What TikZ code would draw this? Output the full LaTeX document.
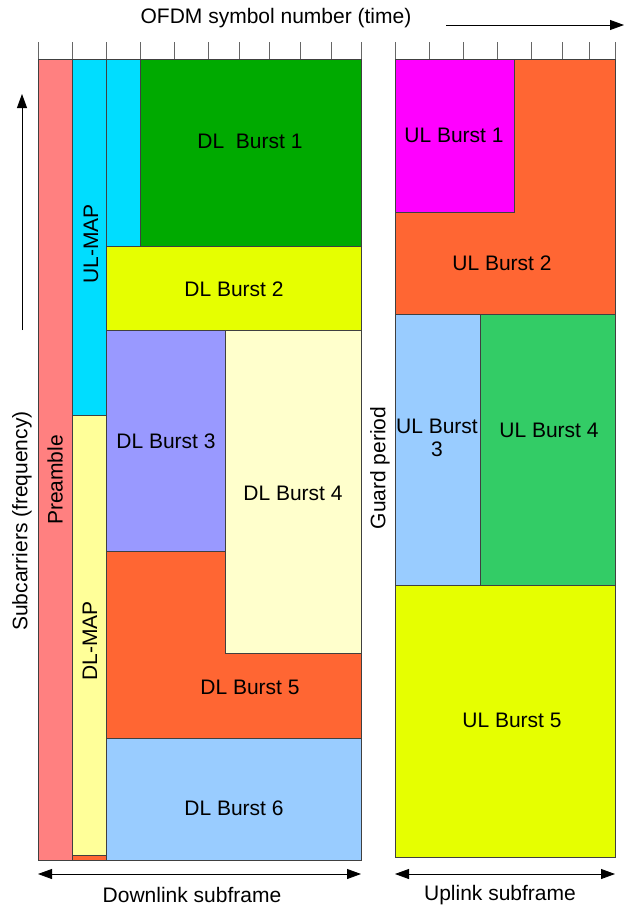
\documentclass[tikz,border=0pt]{standalone}
\usepackage{fontspec}
\setmainfont{Liberation Sans}
\usepackage{tikz}
\usetikzlibrary{arrows.meta}

\definecolor{preamble}{HTML}{FF8080}
\definecolor{mapcyan}{HTML}{00DDFF}
\definecolor{mapyellow}{HTML}{FFFF99}
\definecolor{burstgreen}{HTML}{00AA00}
\definecolor{burstlime}{HTML}{E6FF00}
\definecolor{burstlilac}{HTML}{9999FF}
\definecolor{burstcream}{HTML}{FFFFCC}
\definecolor{burstorange}{HTML}{FF6633}
\definecolor{burstblue}{HTML}{99CCFF}
\definecolor{burstpink}{HTML}{FF00FF}
\definecolor{burstmint}{HTML}{33CC66}

\begin{document}
\begin{tikzpicture}[x=1pt,y=-1pt,
  blk/.style={draw=black!75,line width=0.9pt},
  lbl/.style={font=\fontsize{21}{23}\selectfont,inner sep=0pt,align=center},
  tck/.style={draw=black!60,line width=0.9pt},
  arr/.style={-{Triangle[length=14pt,width=10pt]},line width=0.8pt},
  darr/.style={{Triangle[length=14pt,width=10pt]}-{Triangle[length=14pt,width=10pt]},line width=0.8pt}]
\useasboundingbox (0,0) rectangle (625,908);
% symbol ticks
\foreach \t in {38,72,106,140,174,208,239,269,300,331,361,395,429,463,497,531,562,589,615}
  \draw [tck] (\t,42) -- (\t,59);
% downlink subframe
\filldraw [blk,fill=preamble] (38,59) rectangle (72,860);
\filldraw [blk,fill=mapcyan] (72,59) rectangle (106,415);
\filldraw [blk,fill=mapyellow] (72,415) rectangle (106,855);
\filldraw [blk,fill=burstorange] (72,855) rectangle (106,860);
\filldraw [blk,fill=mapcyan] (106,59) rectangle (140,246);
\filldraw [blk,fill=burstgreen] (140,59) rectangle (361,246);
\filldraw [blk,fill=burstlime] (106,246) rectangle (361,330);
\filldraw [blk,fill=burstorange] (106,551) rectangle (361,738);
\filldraw [blk,fill=burstlilac] (106,330) rectangle (225,551);
\filldraw [blk,fill=burstcream] (225,330) rectangle (361,653);
\filldraw [blk,fill=burstblue] (106,738) rectangle (361,860);
% uplink subframe
\filldraw [blk,fill=burstorange] (395,59) rectangle (615,314);
\filldraw [blk,fill=burstpink] (395,59) rectangle (514,212);
\filldraw [blk,fill=burstblue] (395,314) rectangle (480,585);
\filldraw [blk,fill=burstmint] (480,314) rectangle (615,585);
\filldraw [blk,fill=burstlime] (395,585) rectangle (615,857);
% labels
\draw (250,141) node (dl1) [lbl] {DL\ \ Burst 1};
\draw (234,289) node (dl2) [lbl] {DL Burst 2};
\draw (166,441) node (dl3) [lbl] {DL Burst 3};
\draw (293,493) node (dl4) [lbl] {DL Burst 4};
\draw (250,687) node (dl5) [lbl] {DL Burst 5};
\draw (234,808) node (dl6) [lbl] {DL Burst 6};
\draw (454,135) node (ul1) [lbl] {UL Burst 1};
\draw (502,263) node (ul2) [lbl] {UL Burst 2};
\draw (437,438) node (ul3) [lbl] {UL Burst\\3};
\draw (549,430) node (ul4) [lbl] {UL Burst 4};
\draw (512,720) node (ul5) [lbl] {UL Burst 5};
\draw (55,480) node (pre) [lbl,rotate=90] {Preamble};
\draw (91,244) node (ulmap) [lbl,rotate=90] {UL-MAP};
\draw (90,641) node (dlmap) [lbl,rotate=90] {DL-MAP};
\draw (380,468) node (guard) [lbl,rotate=90] {Guard period};
\draw (22,521) node (freq) [lbl,rotate=90] {Subcarriers (frequency)};
\draw (276,18) node (time) [lbl] {OFDM symbol number (time)};
\draw (192,895) node (down) [lbl] {Downlink subframe};
\draw (500,895) node (up) [lbl] {Uplink subframe};
% axes arrows
\coordinate (ta) at (446,25);
\coordinate (tb) at (624,25);
\coordinate (fa) at (22,330);
\coordinate (fb) at (22,94);
\coordinate (da) at (38,874);
\coordinate (db) at (361,874);
\coordinate (ua) at (395,874);
\coordinate (ub) at (615,874);
\draw [arr] (ta) -- (tb);
\draw [arr] (fa) -- (fb);
\draw [darr] (da) -- (db);
\draw [darr] (ua) -- (ub);
\end{tikzpicture}
\end{document}
